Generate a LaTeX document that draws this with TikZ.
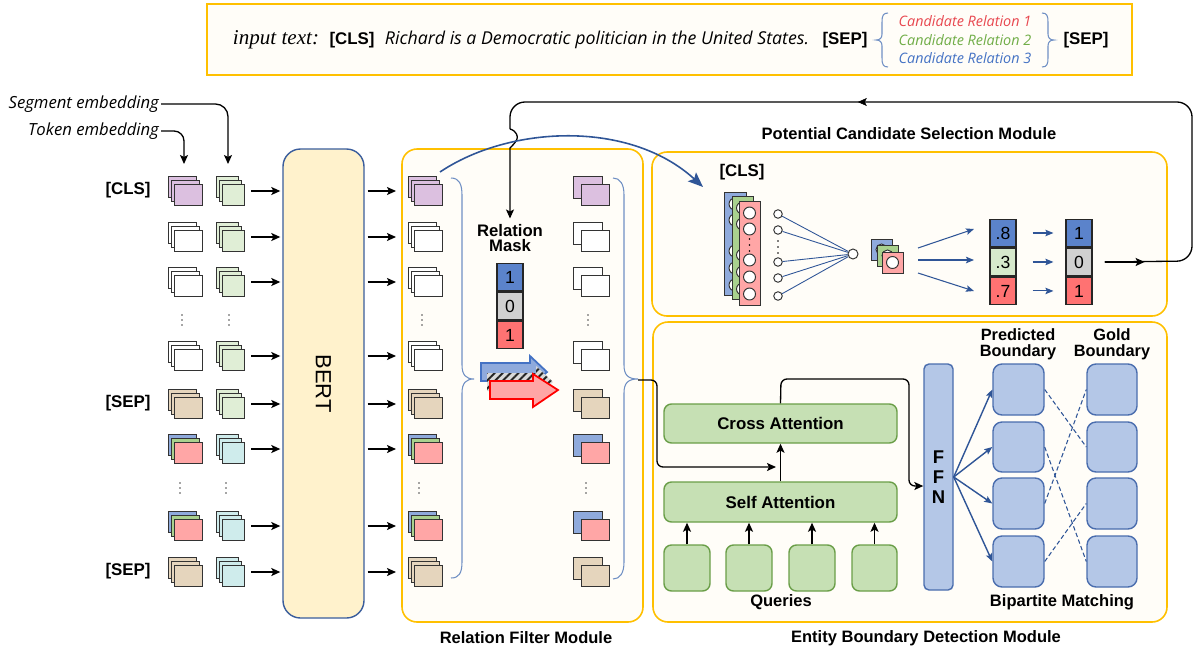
\documentclass[tikz,border=0pt]{standalone}
\usepackage{fontspec}
\setmainfont{Liberation Sans}
\newfontfamily\serifit{Liberation Serif}
\newfontfamily\osans{Open Sans}
\usetikzlibrary{arrows.meta,fit,patterns.meta,decorations.markings}
\definecolor{ybord}{HTML}{FFC000}
\definecolor{modfill}{HTML}{FFFDF8}
\definecolor{bertfill}{HTML}{FFF2CC}
\definecolor{bertbord}{HTML}{3A5D9C}
\definecolor{pur}{HTML}{DCC0E0}
\definecolor{tanc}{HTML}{E5D5BD}
\definecolor{lblu}{HTML}{8FAADC}
\definecolor{lgrn}{HTML}{A9D18E}
\definecolor{pnk}{HTML}{FFA6A6}
\definecolor{egr}{HTML}{E0EED6}
\definecolor{ecy}{HTML}{CFECEC}
\definecolor{mblue}{HTML}{5B83CB}
\definecolor{mgray}{HTML}{D0D0D0}
\definecolor{mred}{HTML}{FF7272}
\definecolor{mgrn}{HTML}{D6E9CC}
\definecolor{qfill}{HTML}{C6E0B4}
\definecolor{qbord}{HTML}{6A9E48}
\definecolor{bfill}{HTML}{B4C7E7}
\definecolor{bbord}{HTML}{4A6DAE}
\definecolor{dblue}{HTML}{2F5597}
\definecolor{bracec}{HTML}{6F8FC4}
\definecolor{crred}{HTML}{E8474F}
\definecolor{crgrn}{HTML}{70AD47}
\definecolor{crblu}{HTML}{4472C4}
\tikzset{
  stk/.style={draw=black!80, line width=0.55pt},
  arr/.style={line width=0.75pt, -{Stealth[length=0.18cm,width=0.16cm,inset=0.04cm]}},
  barr/.style={draw=dblue, line width=0.6pt, -{Stealth[length=0.16cm,width=0.13cm,inset=0.03cm]}},
  module/.style={draw=ybord, fill=modfill, line width=0.9pt, rounded corners=0.3cm, inner sep=0pt},
  bold/.style={font=\fontsize{9.4}{9.6}\selectfont\bfseries},
  tok/.style={font=\fontsize{9.6}{11}\selectfont\bfseries, inner sep=1pt},
  cell/.style={draw=black!85, line width=0.7pt, minimum width=0.52cm, minimum height=0.555cm, inner sep=0pt, font=\fontsize{10}{11}\selectfont},
  gbox/.style={draw=qbord, fill=qfill, line width=0.8pt, rounded corners=0.15cm, inner sep=0pt},
  bbox/.style={draw=bbord, fill=bfill, line width=0.8pt, rounded corners=0.18cm, inner sep=0pt},
  sem/.style={font=\osans\itshape\fontsize{9.5}{11}\selectfont, inner sep=1pt},
  brc/.style={draw=bracec, line width=0.6pt},
  midtip/.style={decorate, decoration={markings, mark=at position #1 with {\arrow{Stealth[length=0.18cm,width=0.16cm,inset=0.04cm]}}}},
}
\newcommand\tstack[5]{%
  \filldraw[stk,fill=#3] ({#1-17},{#2-14.5}) rectangle ++(28,21);
  \filldraw[stk,fill=#4] ({#1-14},{#2-10.5}) rectangle ++(28,21);
  \filldraw[stk,fill=#5] ({#1-11},{#2-6.5}) rectangle ++(28,21);}
\newcommand\estack[3]{%
  \filldraw[stk,fill=#3] ({#1-14},{#2-14.5}) rectangle ++(22,21);
  \filldraw[stk,fill=#3] ({#1-11},{#2-10.5}) rectangle ++(22,21);
  \filldraw[stk,fill=#3] ({#1-8},{#2-6.5}) rectangle ++(22,21);}
\newcommand\rstack[4]{%
  \filldraw[stk,fill=#3] ({#1-18},{#2-15}) rectangle ++(29,22);
  \filldraw[stk,fill=#4] ({#1-10},{#2-7}) rectangle ++(28,21);}
\begin{document}
\begin{tikzpicture}[x=0.02cm,y=-0.02cm]
\useasboundingbox (0,0) rectangle (1196,653);
\fill[white] (0,0) rectangle (1196,653);

% ---------------- banner
\node[module, rounded corners=0pt, fit={(207,4)(1132,75)}] (banner) {};
\node[font=\serifit\itshape\fontsize{12}{13}\selectfont] (inp) at (276,40) {input text:};
\node[tok] (bcls) at (352,40) {[CLS]};
\node[font=\osans\itshape\fontsize{10.1}{11}\selectfont] (sent) at (597,40) {Richard is a Democratic politician in the United States.};
\node[tok] (bsep1) at (845,40) {[SEP]};
\draw[brc] (888,13) .. controls (883,13) and (882,16) .. (882,22) -- (882,34) .. controls (882,38) and (880,40) .. (876,40) .. controls (880,40) and (882,42) .. (882,46) -- (882,58) .. controls (882,64) and (883,67) .. (888,67);
\node[font=\osans\itshape\fontsize{8.2}{9}\selectfont, text=crred] (cr1) at (965,21) {Candidate Relation 1};
\node[font=\osans\itshape\fontsize{8.2}{9}\selectfont, text=crgrn] (cr2) at (965,40) {Candidate Relation 2};
\node[font=\osans\itshape\fontsize{8.2}{9}\selectfont, text=crblu] (cr3) at (965,58) {Candidate Relation 3};
\draw[brc] (1042,13) .. controls (1047,13) and (1048,16) .. (1048,22) -- (1048,34) .. controls (1048,38) and (1050,40) .. (1054,40) .. controls (1050,40) and (1048,42) .. (1048,46) -- (1048,58) .. controls (1048,64) and (1047,67) .. (1042,67);
\node[tok] (bsep2) at (1086,40) {[SEP]};

% ---------------- modules
\node[module, fit={(402,149)(643,622)}] (rfm) {};
\node[module, fit={(652,152)(1167,316)}] (pcsm) {};
\node[module, fit={(653,322)(1167,622)}] (ebdm) {};
\node[bold] (rfmt) at (526,638) {Relation Filter Module};
\node[bold] (pcsmt) at (909,134) {Potential Candidate Selection Module};
\node[bold] (ebdmt) at (926,638) {Entity Boundary Detection Module};

% ---------------- BERT
\node[draw=bertbord, fill=bertfill, line width=0.8pt, rounded corners=0.35cm, inner sep=0pt, fit={(283,149)(364,618)}] (bert) {};
\node[rotate=-90, font=\fontsize{12.5}{13}\selectfont] (berttxt) at (bert.center) {BERT};

% ---------------- embedding labels
\node[sem, anchor=east] (seg) at (161,104) {Segment embedding};
\node[sem, anchor=east] (tokl) at (161,131) {Token embedding};
\coordinate (segend) at (228,164);
\coordinate (tokend) at (184,164);
\draw[arr, rounded corners=0.25cm] (seg.east) -- (segend |- seg.east) -- (segend);
\draw[arr, rounded corners=0.2cm] (tokl.east) -- (tokend |- tokl.east) -- (tokend);

\node[tok] (lcls) at (128,190) {[CLS]};
\node[tok] (lsep1) at (128,403) {[SEP]};
\node[tok] (lsep2) at (128,571) {[SEP]};

% ---------------- token rows
\foreach \y/\ca/\cb/\cc/\ce/\ra/\rb in {
191/pur/pur/pur/egr/pur/pur,
237/white/white/white/egr/white/white,
282/white/white/white/egr/white/white,
356/white/white/white/egr/white/white,
404/tanc/tanc/tanc/egr/tanc/tanc,
449/lblu/lgrn/pnk/ecy/lblu/pnk,
526/lblu/lgrn/pnk/ecy/lblu/pnk,
572/tanc/tanc/tanc/ecy/tanc/tanc}{
  \tstack{185}{\y}{\ca}{\cb}{\cc}
  \estack{230}{\y}{\ce}
  \tstack{425}{\y}{\ca}{\cb}{\cc}
  \rstack{591}{\y}{\ra}{\rb}
  \coordinate (e\y) at (251,\y);
  \coordinate (s\y) at (396,\y);
  \draw[arr, shorten >=0.04cm] (e\y) -- (e\y -| bert.west);
  \draw[arr, shorten <=0.06cm] (bert.east |- e\y) -- (s\y);
}
\foreach \xx/\yy in {182/320, 229/320, 180/488, 226/488, 422/320, 588/320, 419/488, 586/488}
  \foreach \d in {-5,0,5} \fill[black!70] (\xx,\yy+\d) circle (0.45pt);

% ---------------- braces in RFM
\draw[brc] (451,178) .. controls (459,178) and (462,184) .. (462,195) -- (462,365) .. controls (462,375) and (466,379) .. (474,379) .. controls (466,379) and (462,383) .. (462,393) -- (462,562) .. controls (462,573) and (459,578) .. (451,578);
\draw[brc] (613,178) .. controls (620,178) and (624,184) .. (624,195) -- (624,365) .. controls (624,375) and (628,379) .. (638,379) .. controls (628,379) and (624,383) .. (624,393) -- (624,562) .. controls (624,573) and (620,579) .. (613,579);

% ---------------- relation mask
\node[font=\fontsize{9.5}{8.3}\selectfont\bfseries, align=center, inner sep=1pt] (rmask) at (510,238) {Relation\\Mask};
\node[cell, fill=mblue] (m1) at (510,277) {1};
\node[cell, fill=mgray, anchor=north] (m2) at (m1.south) {0};
\node[cell, fill=mred, anchor=north] (m3) at (m2.south) {1};

% fat arrows
\filldraw[draw=crblu, fill=lblu, line width=1pt] (481,363) -- (530,363) -- (530,356) -- (547,372) -- (530,388) -- (530,381) -- (481,381) -- cycle;
\fill[black!15] (487,373) -- (536,373) -- (536,366) -- (553,382) -- (536,398) -- (536,391) -- (487,391) -- cycle;
\fill[pattern={Lines[angle=45,distance=3.2pt,line width=1.1pt]}, pattern color=black!85] (487,373) -- (536,373) -- (536,366) -- (553,382) -- (536,398) -- (536,391) -- (487,391) -- cycle;
\filldraw[draw=red, fill=pnk, line width=1pt] (490,381) -- (533,381) -- (533,374) -- (558,390) -- (533,407) -- (533,399) -- (490,399) -- cycle;

% ---------------- PCSM content
\node[tok] (pcls) at (742,172) {[CLS]};
\filldraw[stk, fill=lblu] (724,192) rectangle (746,295);
\foreach \cy in {204,220,251,268,285} \filldraw[stk, fill=white] (735,\cy) circle (0.12cm);
\filldraw[stk, fill=lgrn] (732,196) rectangle (753,299);
\foreach \cy in {208,224,255,272,289} \filldraw[stk, fill=white] (742.5,\cy) circle (0.12cm);
\filldraw[stk, fill=pnk] (739,201) rectangle (760,305);
\foreach \cy in {213,229,260,277,294} \filldraw[stk, fill=white] (749.5,\cy) circle (0.12cm);
\foreach \d in {239,245,251} \fill (749.5,\d) circle (0.5pt);
\foreach \cy [count=\i] in {214,230,262,278,296}
  \node[circle, stk, fill=white, minimum size=0.17cm, inner sep=0pt] (sc\i) at (778,\cy) {};
\foreach \d in {241,247,253} \fill (778,\d) circle (0.5pt);
\node[circle, stk, fill=white, minimum size=0.2cm, inner sep=0pt] (hub) at (853,254) {};
\foreach \i in {1,...,5} \draw[dblue, line width=0.5pt] (sc\i) -- (hub);
\filldraw[stk, fill=lblu] (871,239) rectangle (892,260);
\filldraw[stk, fill=white] (881.5,249.5) circle (0.11cm);
\filldraw[stk, fill=lgrn] (877,245) rectangle (898,266);
\filldraw[stk, fill=white] (887.5,255.5) circle (0.11cm);
\filldraw[stk, fill=pnk] (882,252) rectangle (903,273);
\filldraw[stk, fill=white] (892.5,262.5) circle (0.12cm);

\node[cell, fill=mblue] (s1) at (1003,233) {.8};
\node[cell, fill=mgrn, anchor=north] (s2) at (s1.south) {.3};
\node[cell, fill=mred, anchor=north] (s3) at (s2.south) {.7};
\node[cell, fill=mblue] (t1) at (1079,233) {1};
\node[cell, fill=mgray, anchor=north] (t2) at (t1.south) {0};
\node[cell, fill=mred, anchor=north] (t3) at (t2.south) {1};

\coordinate (pa1) at (918,248); \coordinate (pb1) at (974,229);
\coordinate (pa2) at (918,260); \coordinate (pb2) at (974,260);
\coordinate (pa3) at (918,273); \coordinate (pb3) at (974,291);
\foreach \i in {1,2,3} {
  \draw[barr] (pa\i) -- (pb\i);
  \draw[barr, shorten <=0.32cm, shorten >=0.24cm] (s\i.east) -- (t\i.west);
}

% feedback loop
\coordinate (fbs) at ([xshift=0.24cm]t2.east);
\coordinate (fbm) at ([xshift=0.8cm]fbs);
\coordinate (fbr) at (1192,261);
\coordinate (fbt) at (1192,102);
\coordinate (fbl) at (510,102);
\coordinate (hopa) at (510,129);
\coordinate (hopb) at (510,148);
\draw[line width=0.75pt, rounded corners=0.3cm] (fbs) -- (fbr) -- (fbt) -- (fbl) -- (hopa);
\draw[arr] (fbs) -- (fbm);
\path[midtip=0.49] (fbt) -- (fbl);
\draw[arr, shorten >=0.08cm] (hopa) .. controls (517,131) and (518,137) .. (517,139) .. controls (516,142) and (512,146) .. (hopb) -- (rmask.north);

% blue curved arrow
\coordinate (clsR) at (440,172);
\coordinate (pcsmIn) at (703,187);
\draw[dblue, line width=0.9pt, -{Stealth[length=0.3cm,width=0.24cm,inset=0.06cm]}] (clsR) .. controls (510,125) and (630,120) .. (pcsmIn);

% ---------------- EBDM
\tikzset{gtxt/.style={font=\fontsize{9.6}{11}\selectfont\bfseries}}
\node[gbox, fit={(664,404)(897,443)}] (cross) {};
\node[gtxt] (crosst) at (cross.center) {Cross Attention};
\node[gbox, fit={(664,482)(897,522)}] (self) {};
\node[gtxt] (selft) at (self.center) {Self Attention};
\node[gbox, fit={(664,545)(710,591)}] (q1) {};
\node[gbox, fit={(726,545)(772,591)}] (q2) {};
\node[gbox, fit={(789,545)(835,591)}] (q3) {};
\node[gbox, fit={(852,545)(897,591)}] (q4) {};
\node[bold] (qlab) at (781,602) {Queries};
\foreach \i in {1,...,4} \draw[arr] (q\i.north) -- (q\i.north |- self.south);
\draw[arr] (self.north) -- (cross.south);

\node[bbox, rounded corners=0.1cm, fit={(924,364)(953,590)}] (ffn) {};
\node[font=\fontsize{10.5}{11.3}\selectfont\bfseries, align=center] (ffnt) at (ffn.center) {F\\F\\N};

\foreach \i/\ya/\yb in {1/364/415, 2/422/472, 3/478/529, 4/536/587} {
  \node[bbox, fit={(993,\ya)(1044,\yb)}] (p\i) {};
  \node[bbox, fit={(1087,\ya)(1137,\yb)}] (g\i) {};
  \draw[barr, line width=0.8pt] (ffn.east) -- (p\i.west);
}
\node[font=\fontsize{9.3}{9.2}\selectfont\bfseries, align=center] (plab) at (1018,344) {Predicted\\Boundary};
\node[font=\fontsize{9.3}{9.2}\selectfont\bfseries, align=center] (glab) at (1112,344) {Gold\\Boundary};
\node[bold] (bml) at (1062,602) {Bipartite Matching};
\tikzset{dsh/.style={draw=dblue, line width=0.6pt, dash pattern=on 2.5pt off 1.5pt}}
\draw[dsh] (p1.east) -- (g2.west);
\draw[dsh] (p2.east) -- (g4.west);
\draw[dsh] (p3.east) -- (g1.west);
\draw[dsh] (p4.east) -- (g3.west);

% connectors into EBDM
\coordinate (btip) at (638,380);
\coordinate (bdn) at (657,467);
\coordinate (jn) at (776,467);
\draw[arr, rounded corners=0.12cm] (btip) -- (bdn |- btip) -- (bdn) -- (jn);
\coordinate (ct) at (781,379);
\coordinate (cr) at (909,379);
\coordinate (cd) at (909,486);
\draw[arr, rounded corners=0.12cm] (cross.north) -- (ct) -- (cr) -- (cd) -- (cd -| ffn.west);
\end{tikzpicture}
\end{document}
